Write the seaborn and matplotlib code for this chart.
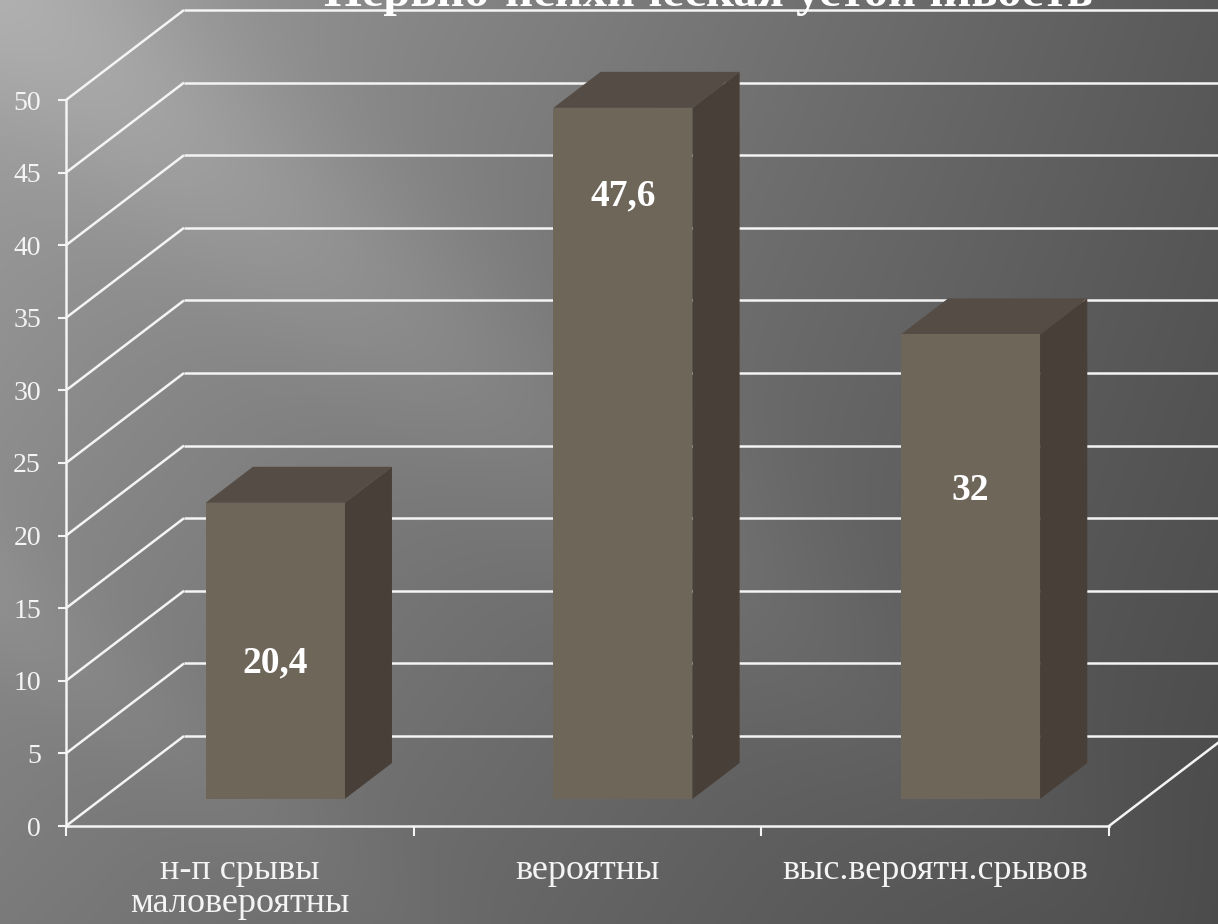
import numpy as np
import matplotlib
matplotlib.use("Agg")
import matplotlib.pyplot as plt
from matplotlib.patches import Polygon
import seaborn as sns

# ---- data ----
categories = ["н-п срывы\nмаловероятны", "вероятны", "выс.вероятн.срывов"]
values = [20.4, 47.6, 32.0]
y_ticks = [0, 5, 10, 15, 20, 25, 30, 35, 40, 45, 50]
title = "Нервно-психическая устойчивость"

# ---- style ----
sns.set_theme(style="white")
plt.rcParams["font.family"] = ["Liberation Serif", "DejaVu Serif"]

FRONT = "#6f665a"
SIDE = "#483f39"
TOP = "#554c45"
LINE = "#f4f4f4"

W, H = 1218, 924
fig = plt.figure(figsize=(W / 100, H / 100), dpi=100)

# background gradient
bg = fig.add_axes([0, 0, 1, 1])
yy, xx = np.mgrid[0:H, 0:W]
u = xx / W
w = yy / H
v = 0.62 - 0.27 * u - 0.06 * w - 0.08 * w * (1 - u)
# diagonal light streaks
d = ((yy - 150) * 1.0 - (xx - 200) * 0.8) / np.hypot(1.0, 0.8)
v += 0.07 * np.exp(-(d / 110.0) ** 2) * np.clip(1.1 - u, 0, 1)
d2 = ((yy - 600) * 1.0 - (xx - 0) * 0.8) / np.hypot(1.0, 0.8)
v += 0.05 * np.exp(-(d2 / 60.0) ** 2) * np.clip(0.6 - u, 0, 1)
img = np.dstack([v, v, v]).clip(0, 1)
bg.imshow(img, aspect="auto", extent=[0, 1, 0, 1], origin="upper")
bg.set_axis_off()

# main axes = front plane of the pseudo-3D chart
left_px, right_px, bottom_px, top_px = 66, 1109, 826, 100
ax = fig.add_axes([left_px / W, 1 - bottom_px / H,
                   (right_px - left_px) / W, (bottom_px - top_px) / H])
ax.set_facecolor("none")

ncat = len(categories)
ax.set_xlim(-0.5, ncat - 0.5)
ax.set_ylim(0, 50)

# depth of the 3D box (in data units)
px_per_x = (right_px - left_px) / ncat
px_per_y = (bottom_px - top_px) / 50
DX = 118 / px_per_x
DY = 90 / px_per_y
f_front, f_back = 0.3, 0.7

# back wall grid lines + left wall diagonals
for t in y_ticks:
    ax.plot([-0.5, -0.5 + DX], [t, t + DY], color=LINE, lw=1.8,
            clip_on=False, zorder=1, solid_capstyle="butt")
    ax.plot([-0.5 + DX, ncat + 1], [t + DY, t + DY], color=LINE, lw=1.8,
            clip_on=False, zorder=1, solid_capstyle="butt")
# floor right edge
ax.plot([ncat - 0.5, ncat - 0.5 + DX], [0, DY], color=LINE, lw=1.8,
        clip_on=False, zorder=1)

# bars (front faces) via seaborn
sns.barplot(x=categories, y=values, ax=ax, color=FRONT, saturation=1,
            width=0.4, zorder=3, linewidth=0)

fdx, fdy = f_front * DX, f_front * DY
bdx, bdy = (f_back - f_front) * DX, (f_back - f_front) * DY
for p, val in zip(ax.patches, values):
    p.set_x(p.get_x() + fdx)
    p.set_y(fdy)
    p.set_clip_on(False)
    x0 = p.get_x()
    x1 = x0 + p.get_width()
    y0 = fdy
    y1 = fdy + val
    side = Polygon([(x1, y0), (x1 + bdx, y0 + bdy), (x1 + bdx, y1 + bdy), (x1, y1)],
                   closed=True, facecolor=SIDE, edgecolor="none", zorder=2.9,
                   clip_on=False)
    top = Polygon([(x0, y1), (x0 + bdx, y1 + bdy), (x1 + bdx, y1 + bdy), (x1, y1)],
                  closed=True, facecolor=TOP, edgecolor="none", zorder=2.9,
                  clip_on=False)
    ax.add_patch(side)
    ax.add_patch(top)

# value labels
label_pos = [11.2, 43.4, 23.1]
for i, (val, ly) in enumerate(zip(values, label_pos)):
    txt = f"{val:g}".replace(".", ",")
    ax.text(i + fdx, ly, txt, ha="center", va="center", color="white",
            fontsize=27, fontweight="bold", zorder=5)

# axes / ticks
for s in ["top", "right"]:
    ax.spines[s].set_visible(False)
for s in ["left", "bottom"]:
    ax.spines[s].set_color(LINE)
    ax.spines[s].set_linewidth(1.8)
    ax.spines[s].set_zorder(4)

ax.set_yticks(y_ticks)
ax.set_yticklabels([str(t) for t in y_ticks])
ax.set_xticks([i - 0.5 for i in range(ncat + 1)])
ax.set_xticklabels([""] * (ncat + 1))
ax.set_xticks(list(range(ncat)), labels=categories, minor=True)

ax.tick_params(axis="y", which="major", direction="out", length=6, width=1.5,
               color=LINE, labelcolor=LINE, labelsize=20, pad=12, left=True)
ax.tick_params(axis="x", which="major", direction="out", length=7, width=1.5,
               color=LINE, bottom=True)
ax.tick_params(axis="x", which="minor", length=0, labelcolor=LINE,
               labelsize=26, pad=20)
for lab in ax.get_xticklabels(minor=True):
    lab.set_linespacing(1.0)
ax.set_xlabel("")
ax.set_ylabel("")

# title (cropped at the top of the picture, as in the original)
fig.text(708 / W, 1 - 6 / H, title, ha="center", va="baseline",
         color="white", fontsize=35, fontweight="bold")

fig.savefig("out.png", dpi=100)
